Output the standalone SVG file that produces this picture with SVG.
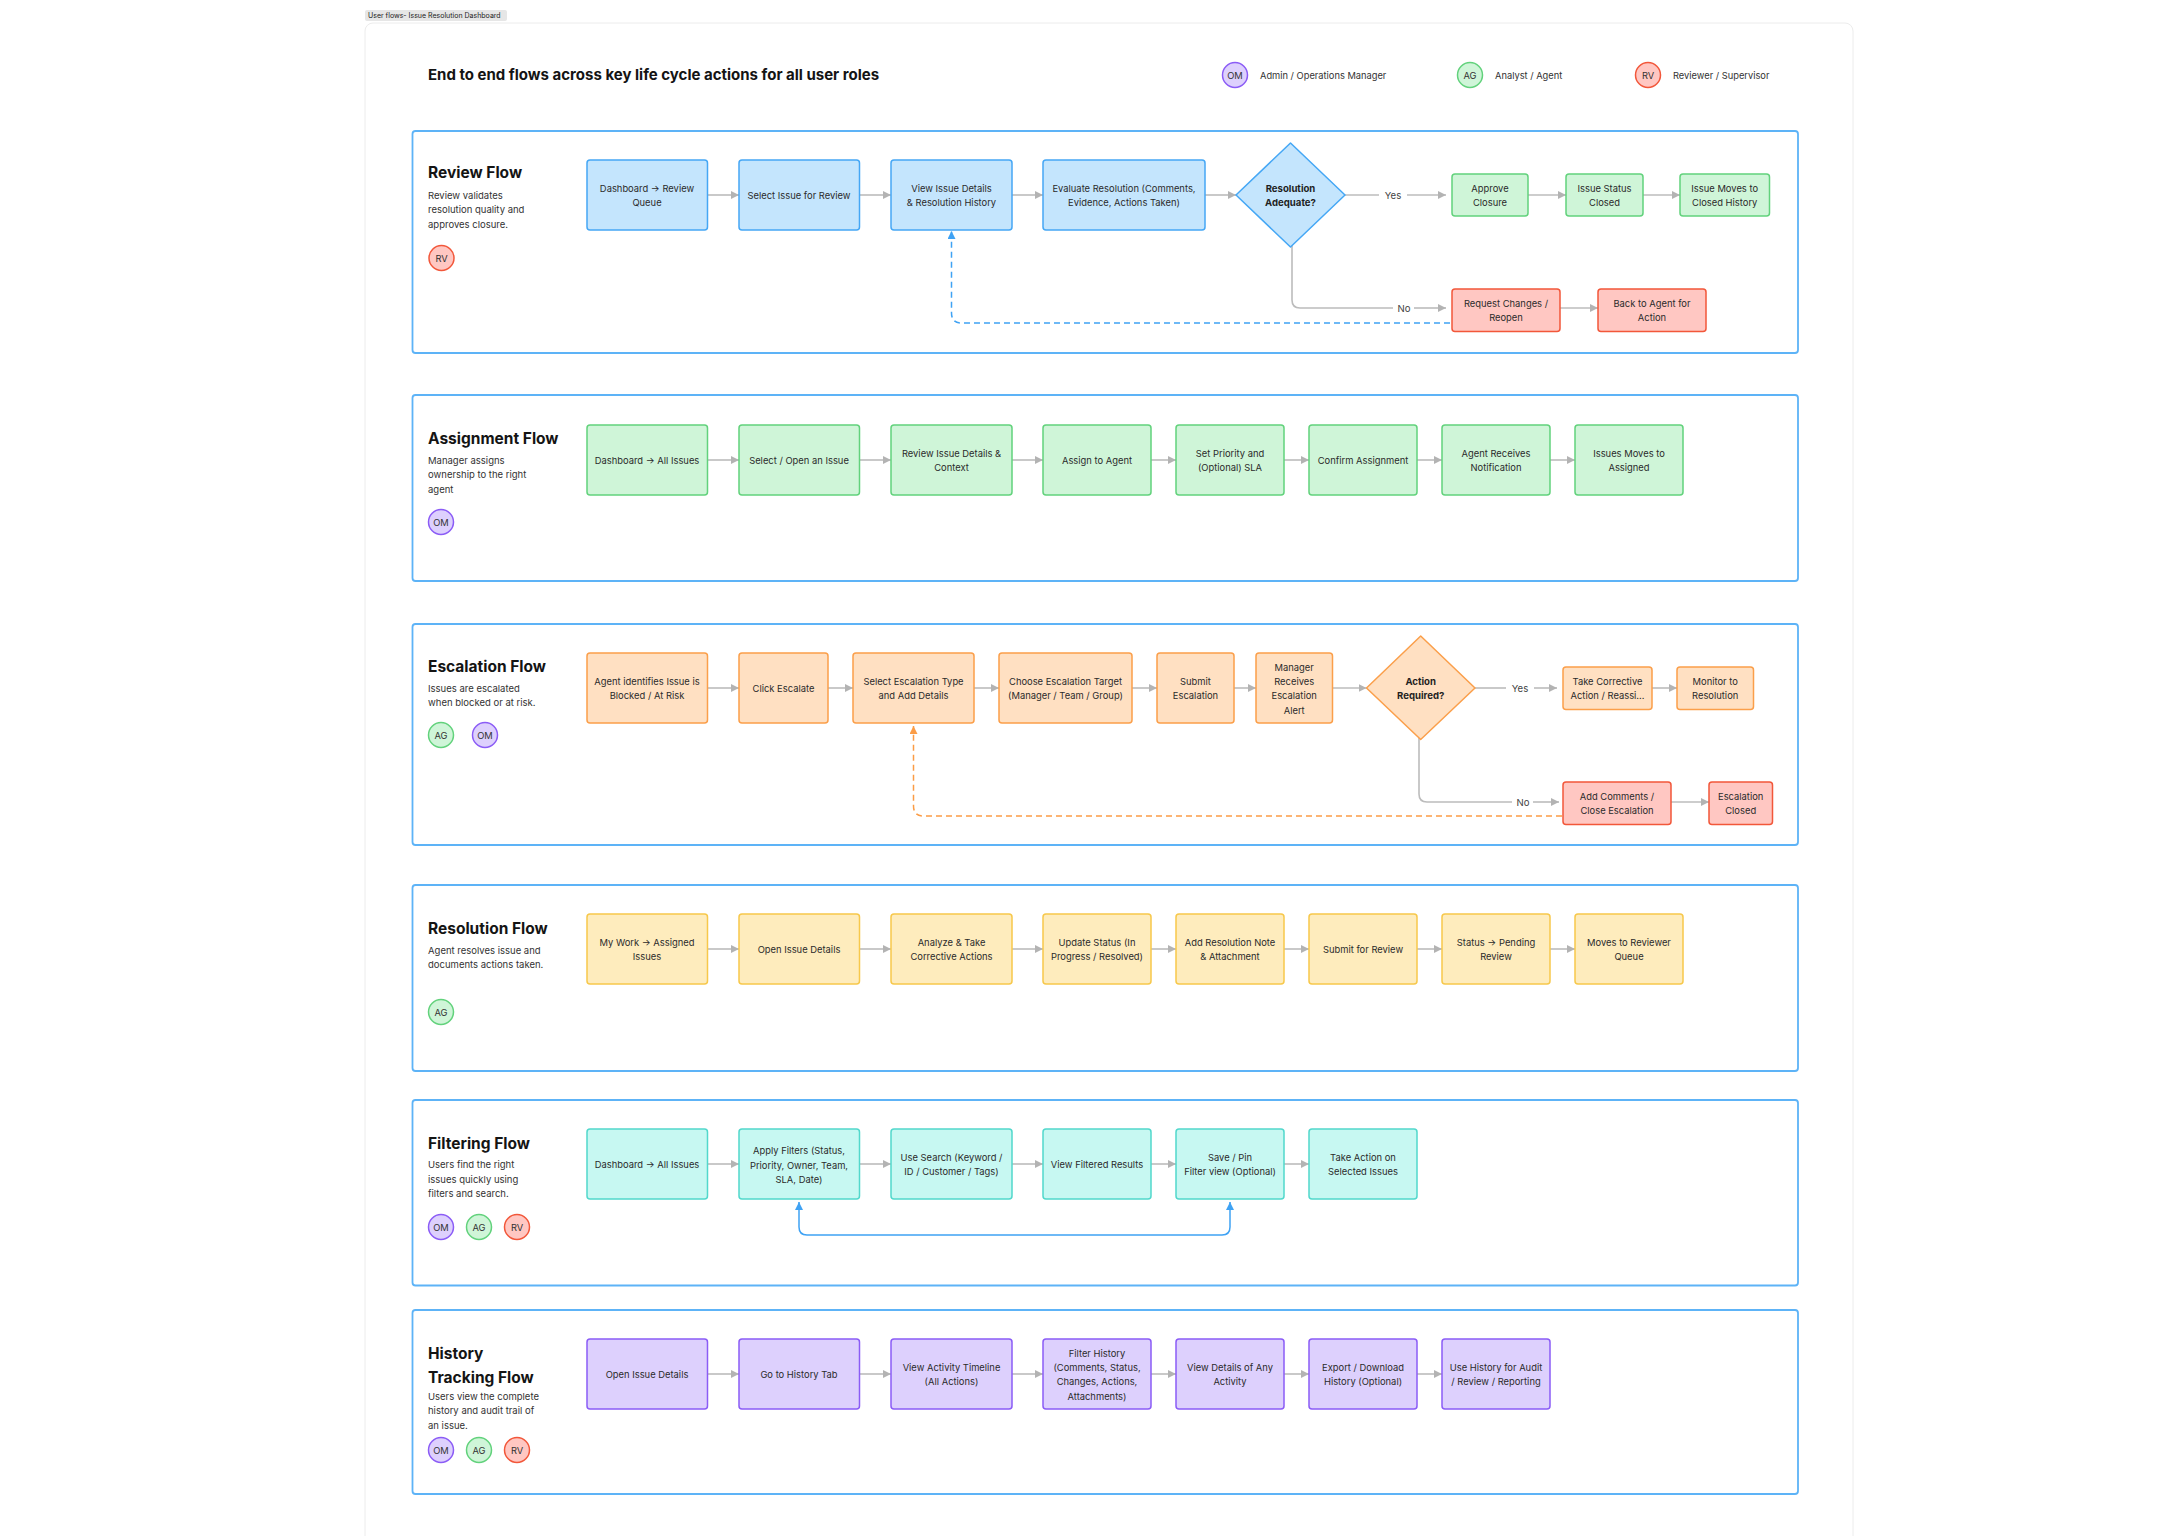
<svg xmlns="http://www.w3.org/2000/svg" width="2160" height="1536" viewBox="0 0 2160 1536">
<style>
text{font-family:Inter,"Noto Sans","Liberation Sans",sans-serif;dominant-baseline:central}
.t{font-size:9.4px;fill:#2b2b2b;text-anchor:middle}
.tb{font-size:9.6px;fill:#1f1f1f;text-anchor:middle;font-weight:700}
.h{font-size:15.5px;font-weight:700;fill:#141414}
.d{font-size:9.5px;fill:#333}
.lg{font-size:9.3px;fill:#333}
.lbl{font-size:9.6px;fill:#444;text-anchor:middle}
.sec{fill:#fff;stroke:#5db3f7;stroke-width:1.8}
.bl{fill:#c4e5fd;stroke:#45a7f5;stroke-width:1.5}
.gr{fill:#cff5d8;stroke:#62d27c;stroke-width:1.5}
.rd{fill:#ffc7c2;stroke:#f2573a;stroke-width:1.5}
.or{fill:#ffe0c2;stroke:#fb9f4a;stroke-width:1.5}
.ye{fill:#feecbd;stroke:#f7c84b;stroke-width:1.5}
.cy{fill:#c7f8f2;stroke:#52d8cc;stroke-width:1.5}
.pu{fill:#ddd0fd;stroke:#8b5cf6;stroke-width:1.5}
.c{font-size:9.3px;fill:#333;text-anchor:middle}
.a{fill:none;stroke:#bcbcbc;stroke-width:1.6}
.ag{marker-end:url(#mg)}
.db{fill:none;stroke:#3fa2f4;stroke-width:1.5;stroke-dasharray:6 4}
.do{fill:none;stroke:#fb9c45;stroke-width:1.5;stroke-dasharray:6 4}
.sb{fill:none;stroke:#3fa2f4;stroke-width:1.5}
</style>
<defs>
<marker id="mg" viewBox="0 0 10 10" refX="10" refY="5" markerWidth="8" markerHeight="8" markerUnits="userSpaceOnUse" orient="auto-start-reverse"><path d="M0,0 L10,5 L0,10 z" fill="#b3b3b3"/></marker>
<marker id="mb" viewBox="0 0 10 10" refX="10" refY="5" markerWidth="8" markerHeight="8" markerUnits="userSpaceOnUse" orient="auto-start-reverse"><path d="M0,0 L10,5 L0,10 z" fill="#3fa2f4"/></marker>
<marker id="mo" viewBox="0 0 10 10" refX="10" refY="5" markerWidth="8" markerHeight="8" markerUnits="userSpaceOnUse" orient="auto-start-reverse"><path d="M0,0 L10,5 L0,10 z" fill="#fb9c45"/></marker>
</defs>
<rect width="2160" height="1536" fill="#fff"/>
<rect x="365" y="23" width="1488" height="1540" rx="8" fill="#fff" stroke="#ececec" stroke-width="1"/>
<rect x="365" y="10" width="142" height="11" rx="2" fill="#e6e6e6"/>
<text x="368" y="15.8" style="font-size:7px;fill:#222">User flows- Issue Resolution Dashboard</text>
<text x="428" y="74.5" style="font-size:15px;font-weight:700;fill:#141414">End to end flows across key life cycle actions for all user roles</text>

<g id="legend">
<circle cx="1235" cy="75" r="12.5" class="pu"/><text x="1235" y="75" class="c">OM</text>
<text x="1260" y="75" class="lg">Admin / Operations Manager</text>
<circle cx="1470" cy="75" r="12.5" class="gr"/><text x="1470" y="75" class="c">AG</text>
<text x="1495" y="75" class="lg">Analyst / Agent</text>
<circle cx="1648" cy="75" r="12.5" class="rd"/><text x="1648" y="75" class="c">RV</text>
<text x="1673" y="75" class="lg">Reviewer / Supervisor</text>
</g>

<!-- Sections -->
<g id="sec-review">
<rect x="412.5" y="131" width="1385.5" height="222" rx="3" class="sec"/>
<text x="428" y="172.5" class="h">Review Flow</text>
<text x="428" y="195" class="d">Review validates</text>
<text x="428" y="209.5" class="d">resolution quality and</text>
<text x="428" y="224" class="d">approves closure.</text>
<circle cx="441.5" cy="258" r="12.5" class="rd"/><text x="441.5" y="258" class="c">RV</text>
</g>
<g id="sec-assign">
<rect x="412.5" y="395" width="1385.5" height="186" rx="3" class="sec"/>
<text x="428" y="438" class="h">Assignment Flow</text>
<text x="428" y="460" class="d">Manager assigns</text>
<text x="428" y="474.5" class="d">ownership to the right</text>
<text x="428" y="489" class="d">agent</text>
<circle cx="441" cy="522" r="12.5" class="pu"/><text x="441" y="522" class="c">OM</text>
</g>
<g id="sec-esc">
<rect x="412.5" y="624" width="1385.5" height="221" rx="3" class="sec"/>
<text x="428" y="666.5" class="h">Escalation Flow</text>
<text x="428" y="688" class="d">Issues are escalated</text>
<text x="428" y="702.5" class="d">when blocked or at risk.</text>
<circle cx="441" cy="735" r="12.5" class="gr"/><text x="441" y="735" class="c">AG</text>
<circle cx="485" cy="735" r="12.5" class="pu"/><text x="485" y="735" class="c">OM</text>
</g>
<g id="sec-res">
<rect x="412.5" y="885" width="1385.5" height="186" rx="3" class="sec"/>
<text x="428" y="928" class="h">Resolution Flow</text>
<text x="428" y="950" class="d">Agent resolves issue and</text>
<text x="428" y="964.5" class="d">documents actions taken.</text>
<circle cx="441" cy="1012" r="12.5" class="gr"/><text x="441" y="1012" class="c">AG</text>
</g>
<g id="sec-filter">
<rect x="412.5" y="1100" width="1385.5" height="185.5" rx="3" class="sec"/>
<text x="428" y="1143" class="h">Filtering Flow</text>
<text x="428" y="1164.5" class="d">Users find the right</text>
<text x="428" y="1179" class="d">issues quickly using</text>
<text x="428" y="1193.5" class="d">filters and search.</text>
<circle cx="441" cy="1227" r="12.5" class="pu"/><text x="441" y="1227" class="c">OM</text>
<circle cx="479" cy="1227" r="12.5" class="gr"/><text x="479" y="1227" class="c">AG</text>
<circle cx="517" cy="1227" r="12.5" class="rd"/><text x="517" y="1227" class="c">RV</text>
</g>
<g id="sec-history">
<rect x="412.5" y="1310" width="1385.5" height="184" rx="3" class="sec"/>
<text x="428" y="1353.5" class="h">History</text>
<text x="428" y="1377" class="h">Tracking Flow</text>
<text x="428" y="1396" class="d">Users view the complete</text>
<text x="428" y="1410.5" class="d">history and audit trail of</text>
<text x="428" y="1425" class="d">an issue.</text>
<circle cx="441" cy="1450" r="12.5" class="pu"/><text x="441" y="1450" class="c">OM</text>
<circle cx="479" cy="1450" r="12.5" class="gr"/><text x="479" y="1450" class="c">AG</text>
<circle cx="517" cy="1450" r="12.5" class="rd"/><text x="517" y="1450" class="c">RV</text>
</g>

<!-- Connectors -->
<g id="connectors">
<path class="a ag" d="M707.5,195H739"/><path class="a ag" d="M859.5,195H891"/><path class="a ag" d="M1012,195H1043"/><path class="a ag" d="M1205,195H1236"/>
<path class="a" d="M1345,195H1379"/><text x="1393" y="195" class="lbl">Yes</text><path class="a ag" d="M1407,195H1446"/>
<path class="a ag" d="M1528,195H1566"/><path class="a ag" d="M1643,195H1680"/>
<path class="a" d="M1292,244V300Q1292,308 1300,308H1393"/><text x="1404" y="308" class="lbl">No</text><path class="a ag" d="M1414,308H1446"/>
<path class="a ag" d="M1560,308H1598"/>
<path class="db" d="M1450,323H961.5Q951.5,323 951.5,313V231" marker-end="url(#mb)"/>

<path class="a ag" d="M707.5,460H739"/><path class="a ag" d="M859.5,460H891"/><path class="a ag" d="M1012,460H1043"/><path class="a ag" d="M1151,460H1176"/><path class="a ag" d="M1284,460H1309"/><path class="a ag" d="M1417,460H1442"/><path class="a ag" d="M1550,460H1575"/>

<path class="a ag" d="M707.5,688H739"/><path class="a ag" d="M828,688H853"/><path class="a ag" d="M974,688H999"/><path class="a ag" d="M1132,688H1157"/><path class="a ag" d="M1234,688H1256"/><path class="a ag" d="M1332,688H1366.5"/>
<path class="a" d="M1475,688H1506"/><text x="1520" y="688" class="lbl">Yes</text><path class="a ag" d="M1534,688H1557"/>
<path class="a ag" d="M1652,688H1677"/>
<path class="a" d="M1419,736V794Q1419,802 1427,802H1512"/><text x="1523" y="802" class="lbl">No</text><path class="a ag" d="M1533,802H1559"/>
<path class="a ag" d="M1671,802H1709"/>
<path class="do" d="M1562,816H923.5Q913.5,816 913.5,806V726" marker-end="url(#mo)"/>

<path class="a ag" d="M707.5,949H739"/><path class="a ag" d="M859.5,949H891"/><path class="a ag" d="M1012,949H1043"/><path class="a ag" d="M1151,949H1176"/><path class="a ag" d="M1284,949H1309"/><path class="a ag" d="M1417,949H1442"/><path class="a ag" d="M1550,949H1575"/>

<path class="a ag" d="M707.5,1164H739"/><path class="a ag" d="M859.5,1164H891"/><path class="a ag" d="M1012,1164H1043"/><path class="a ag" d="M1151,1164H1176"/><path class="a ag" d="M1284,1164H1309"/>
<path class="sb" d="M799,1202V1227Q799,1235 807,1235H1222Q1230,1235 1230,1227V1202" marker-start="url(#mb)" marker-end="url(#mb)"/>

<path class="a ag" d="M707.5,1374H739"/><path class="a ag" d="M859.5,1374H891"/><path class="a ag" d="M1012,1374H1043"/><path class="a ag" d="M1151,1374H1176"/><path class="a ag" d="M1284,1374H1309"/><path class="a ag" d="M1417,1374H1442"/>
</g>

<!-- Review nodes -->
<g id="r1"><rect x="587" y="160" width="120.5" height="70" rx="3" class="bl"/><text x="647" y="188" class="t">Dashboard → Review</text><text x="647" y="202.3" class="t">Queue</text></g>
<g id="r2"><rect x="739" y="160" width="120.5" height="70" rx="3" class="bl"/><text x="799" y="195" class="t">Select Issue for Review</text></g>
<g id="r3"><rect x="891" y="160" width="121" height="70" rx="3" class="bl"/><text x="951.5" y="188" class="t">View Issue Details</text><text x="951.5" y="202.3" class="t">&amp; Resolution History</text></g>
<g id="r4"><rect x="1043" y="160" width="162" height="70" rx="3" class="bl"/><text x="1124" y="188" class="t">Evaluate Resolution (Comments,</text><text x="1124" y="202.3" class="t">Evidence, Actions Taken)</text></g>
<g id="r5"><polygon points="1290.5,143 1345,195 1290.5,247 1236,195" class="bl" stroke-linejoin="round"/><text x="1290.5" y="188" class="tb">Resolution</text><text x="1290.5" y="202.3" class="tb">Adequate?</text></g>
<g id="r6"><rect x="1452" y="174" width="76" height="42" rx="3" class="gr"/><text x="1490" y="188" class="t">Approve</text><text x="1490" y="202.3" class="t">Closure</text></g>
<g id="r7"><rect x="1566" y="174" width="77" height="42" rx="3" class="gr"/><text x="1604.5" y="188" class="t">Issue Status</text><text x="1604.5" y="202.3" class="t">Closed</text></g>
<g id="r8"><rect x="1680" y="174" width="89.5" height="42" rx="3" class="gr"/><text x="1724.7" y="188" class="t">Issue Moves to</text><text x="1724.7" y="202.3" class="t">Closed History</text></g>
<g id="r9"><rect x="1452" y="289" width="108" height="42.5" rx="3" class="rd"/><text x="1506" y="303" class="t">Request Changes /</text><text x="1506" y="317.3" class="t">Reopen</text></g>
<g id="r10"><rect x="1598" y="289" width="108" height="42.5" rx="3" class="rd"/><text x="1652" y="303" class="t">Back to Agent for</text><text x="1652" y="317.3" class="t">Action</text></g>

<!-- Assignment nodes -->
<g id="a1"><rect x="587" y="425" width="120.5" height="70" rx="3" class="gr"/><text x="647" y="460" class="t">Dashboard → All Issues</text></g>
<g id="a2"><rect x="739" y="425" width="120.5" height="70" rx="3" class="gr"/><text x="799" y="460" class="t">Select / Open an Issue</text></g>
<g id="a3"><rect x="891" y="425" width="121" height="70" rx="3" class="gr"/><text x="951.5" y="453" class="t">Review Issue Details &amp;</text><text x="951.5" y="467.3" class="t">Context</text></g>
<g id="a4"><rect x="1043" y="425" width="108" height="70" rx="3" class="gr"/><text x="1097" y="460" class="t">Assign to Agent</text></g>
<g id="a5"><rect x="1176" y="425" width="108" height="70" rx="3" class="gr"/><text x="1230" y="453" class="t">Set Priority and</text><text x="1230" y="467.3" class="t">(Optional) SLA</text></g>
<g id="a6"><rect x="1309" y="425" width="108" height="70" rx="3" class="gr"/><text x="1363" y="460" class="t">Confirm Assignment</text></g>
<g id="a7"><rect x="1442" y="425" width="108" height="70" rx="3" class="gr"/><text x="1496" y="453" class="t">Agent Receives</text><text x="1496" y="467.3" class="t">Notification</text></g>
<g id="a8"><rect x="1575" y="425" width="108" height="70" rx="3" class="gr"/><text x="1629" y="453" class="t">Issues Moves to</text><text x="1629" y="467.3" class="t">Assigned</text></g>

<!-- Escalation nodes -->
<g id="e1"><rect x="587" y="653" width="120.5" height="70" rx="3" class="or"/><text x="647" y="681" class="t">Agent identifies Issue is</text><text x="647" y="695.3" class="t">Blocked / At Risk</text></g>
<g id="e2"><rect x="739" y="653" width="89" height="70" rx="3" class="or"/><text x="783.5" y="688" class="t">Click Escalate</text></g>
<g id="e3"><rect x="853" y="653" width="121" height="70" rx="3" class="or"/><text x="913.5" y="681" class="t">Select Escalation Type</text><text x="913.5" y="695.3" class="t">and Add Details</text></g>
<g id="e4"><rect x="999" y="653" width="133" height="70" rx="3" class="or"/><text x="1065.5" y="681" class="t">Choose Escalation Target</text><text x="1065.5" y="695.3" class="t">(Manager / Team / Group)</text></g>
<g id="e5"><rect x="1157" y="653" width="77" height="70" rx="3" class="or"/><text x="1195.5" y="681" class="t">Submit</text><text x="1195.5" y="695.3" class="t">Escalation</text></g>
<g id="e6"><rect x="1256" y="653" width="76.5" height="70" rx="3" class="or"/><text x="1294.2" y="667.3" class="t">Manager</text><text x="1294.2" y="681.5" class="t">Receives</text><text x="1294.2" y="695.8" class="t">Escalation</text><text x="1294.2" y="710" class="t">Alert</text></g>
<g id="e7"><polygon points="1420.7,636 1475,688 1420.7,739.5 1366.5,688" class="or" stroke-linejoin="round"/><text x="1420.7" y="681" class="tb">Action</text><text x="1420.7" y="695.3" class="tb">Required?</text></g>
<g id="e8"><rect x="1563" y="667" width="89" height="42.5" rx="3" class="or"/><text x="1607.5" y="681" class="t">Take Corrective</text><text x="1607.5" y="695.3" class="t">Action / Reassi...</text></g>
<g id="e9"><rect x="1677" y="667" width="76.5" height="42.5" rx="3" class="or"/><text x="1715.2" y="681" class="t">Monitor to</text><text x="1715.2" y="695.3" class="t">Resolution</text></g>
<g id="e10"><rect x="1563" y="782" width="108" height="42.5" rx="3" class="rd"/><text x="1617" y="796" class="t">Add Comments /</text><text x="1617" y="810.3" class="t">Close Escalation</text></g>
<g id="e11"><rect x="1709" y="782" width="63.5" height="42.5" rx="3" class="rd"/><text x="1740.7" y="796" class="t">Escalation</text><text x="1740.7" y="810.3" class="t">Closed</text></g>

<!-- Resolution nodes -->
<g id="s1"><rect x="587" y="914" width="120.5" height="70" rx="3" class="ye"/><text x="647" y="942" class="t">My Work → Assigned</text><text x="647" y="956.3" class="t">Issues</text></g>
<g id="s2"><rect x="739" y="914" width="120.5" height="70" rx="3" class="ye"/><text x="799" y="949" class="t">Open Issue Details</text></g>
<g id="s3"><rect x="891" y="914" width="121" height="70" rx="3" class="ye"/><text x="951.5" y="942" class="t">Analyze &amp; Take</text><text x="951.5" y="956.3" class="t">Corrective Actions</text></g>
<g id="s4"><rect x="1043" y="914" width="108" height="70" rx="3" class="ye"/><text x="1097" y="942" class="t">Update Status (In</text><text x="1097" y="956.3" class="t">Progress / Resolved)</text></g>
<g id="s5"><rect x="1176" y="914" width="108" height="70" rx="3" class="ye"/><text x="1230" y="942" class="t">Add Resolution Note</text><text x="1230" y="956.3" class="t">&amp; Attachment</text></g>
<g id="s6"><rect x="1309" y="914" width="108" height="70" rx="3" class="ye"/><text x="1363" y="949" class="t">Submit for Review</text></g>
<g id="s7"><rect x="1442" y="914" width="108" height="70" rx="3" class="ye"/><text x="1496" y="942" class="t">Status → Pending</text><text x="1496" y="956.3" class="t">Review</text></g>
<g id="s8"><rect x="1575" y="914" width="108" height="70" rx="3" class="ye"/><text x="1629" y="942" class="t">Moves to Reviewer</text><text x="1629" y="956.3" class="t">Queue</text></g>

<!-- Filtering nodes -->
<g id="f1"><rect x="587" y="1129" width="120.5" height="70" rx="3" class="cy"/><text x="647" y="1164" class="t">Dashboard → All Issues</text></g>
<g id="f2"><rect x="739" y="1129" width="120.5" height="70" rx="3" class="cy"/><text x="799" y="1150.7" class="t">Apply Filters (Status,</text><text x="799" y="1165" class="t">Priority, Owner, Team,</text><text x="799" y="1179.3" class="t">SLA, Date)</text></g>
<g id="f3"><rect x="891" y="1129" width="121" height="70" rx="3" class="cy"/><text x="951.5" y="1157" class="t">Use Search (Keyword /</text><text x="951.5" y="1171.3" class="t">ID / Customer / Tags)</text></g>
<g id="f4"><rect x="1043" y="1129" width="108" height="70" rx="3" class="cy"/><text x="1097" y="1164" class="t">View Filtered Results</text></g>
<g id="f5"><rect x="1176" y="1129" width="108" height="70" rx="3" class="cy"/><text x="1230" y="1157" class="t">Save / Pin</text><text x="1230" y="1171.3" class="t">Filter view (Optional)</text></g>
<g id="f6"><rect x="1309" y="1129" width="108" height="70" rx="3" class="cy"/><text x="1363" y="1157" class="t">Take Action on</text><text x="1363" y="1171.3" class="t">Selected Issues</text></g>

<!-- History nodes -->
<g id="h1"><rect x="587" y="1339" width="120.5" height="70" rx="3" class="pu"/><text x="647" y="1374" class="t">Open Issue Details</text></g>
<g id="h2"><rect x="739" y="1339" width="120.5" height="70" rx="3" class="pu"/><text x="799" y="1374" class="t">Go to History Tab</text></g>
<g id="h3"><rect x="891" y="1339" width="121" height="70" rx="3" class="pu"/><text x="951.5" y="1367" class="t">View Activity Timeline</text><text x="951.5" y="1381.3" class="t">(All Actions)</text></g>
<g id="h4"><rect x="1043" y="1339" width="108" height="70" rx="3" class="pu"/><text x="1097" y="1353.3" class="t">Filter History</text><text x="1097" y="1367.5" class="t">(Comments, Status,</text><text x="1097" y="1381.8" class="t">Changes, Actions,</text><text x="1097" y="1396" class="t">Attachments)</text></g>
<g id="h5"><rect x="1176" y="1339" width="108" height="70" rx="3" class="pu"/><text x="1230" y="1367" class="t">View Details of Any</text><text x="1230" y="1381.3" class="t">Activity</text></g>
<g id="h6"><rect x="1309" y="1339" width="108" height="70" rx="3" class="pu"/><text x="1363" y="1367" class="t">Export / Download</text><text x="1363" y="1381.3" class="t">History (Optional)</text></g>
<g id="h7"><rect x="1442" y="1339" width="108" height="70" rx="3" class="pu"/><text x="1496" y="1367" class="t">Use History for Audit</text><text x="1496" y="1381.3" class="t">/ Review / Reporting</text></g>
</svg>
